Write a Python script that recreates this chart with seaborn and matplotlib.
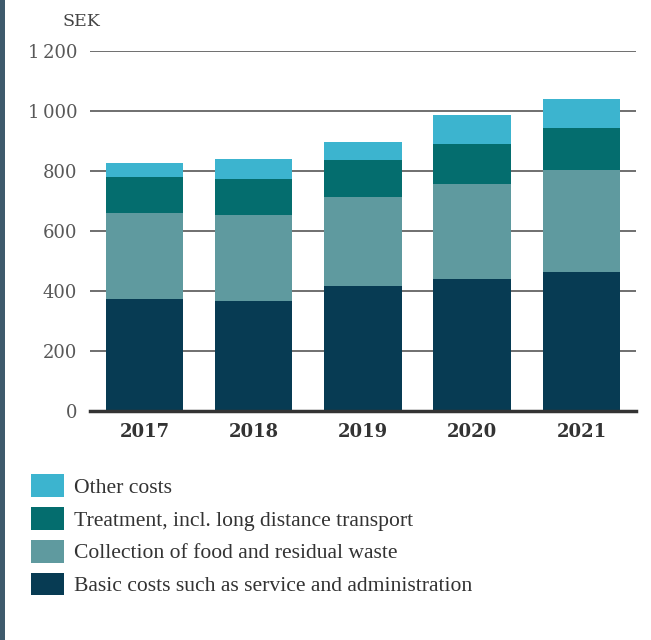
import numpy as np
import pandas as pd
import matplotlib
matplotlib.use("Agg")
import matplotlib.pyplot as plt
from matplotlib.patches import Patch, Rectangle
import seaborn as sns

years = ["2017", "2018", "2019", "2020", "2021"]
basic = [372, 368, 417, 441, 463]
collection = [287, 286, 297, 315, 339]
treatment = [120, 120, 123, 133, 142]
other = [49, 67, 60, 97, 98]

series_names = ["Other costs",
                "Treatment, incl. long distance transport",
                "Collection of food and residual waste",
                "Basic costs such as service and administration"]
colors = ["#3cb4cf", "#046d6e", "#5f9a9f", "#073b53"]
yticks = [0, 200, 400, 600, 800, 1000, 1200]
ytick_labels = ["0", "200", "400", "600", "800", "1\u2009000", "1\u2009200"]

sns.set_theme(style="white")
plt.rcParams['font.family'] = ['DejaVu Serif']

fig = plt.figure(figsize=(6.51, 6.40), dpi=100)
ax = fig.add_axes([0.138, 0.358, 0.839, 0.562])

df = pd.DataFrame({"year": years, "basic": basic, "collection": collection,
                   "treatment": treatment, "other": other})
c1 = df["basic"]
c2 = c1 + df["collection"]
c3 = c2 + df["treatment"]
c4 = c3 + df["other"]
layers = [c4, c3, c2, c1]

for vals, col in zip(layers, colors):
    sns.barplot(x=df["year"], y=vals, color=col, width=0.71, ax=ax,
                saturation=1, edgecolor="none", linewidth=0, zorder=3)

ax.set_ylim(0, 1200)
ax.set_xlim(-0.5, 4.5)
ax.set_yticks(yticks)
ax.set_yticklabels(ytick_labels, family=['DejaVu Serif'], fontsize=13, color="#585858")
ax.set_xticks(range(len(years)))
ax.set_xticklabels(years, fontsize=13, fontweight="bold", color="#333333")
ax.tick_params(axis="y", length=0, pad=9)
ax.tick_params(axis="x", length=0, pad=9)
ax.set_xlabel("")
ax.set_ylabel("")
for y in yticks[1:]:
    ax.axhline(y, color="#6f6f6f", lw=1.4, zorder=1)
for s in ["top", "right", "left"]:
    ax.spines[s].set_visible(False)
ax.spines["bottom"].set_color("#333333")
ax.spines["bottom"].set_linewidth(2.5)
ax.spines["bottom"].set_zorder(4)

fig.text(63 / 651, 1 - 22 / 640, "SEK", fontsize=12.5, color="#444444",
         ha="left", va="center", family=['DejaVu Serif'])

handles = [Patch(facecolor=c, edgecolor="none") for c in colors]
leg = fig.legend(handles, series_names, loc="upper left",
                 bbox_to_anchor=(31 / 651, 1 - 474 / 640),
                 frameon=False, prop={"family": "Liberation Serif", "size": 15.6},
                 handlelength=1.52, handleheight=1.25, handletextpad=0.45,
                 labelspacing=0.42, borderaxespad=0, borderpad=0)
for t in leg.get_texts():
    t.set_color("#333333")

fig.patches.append(Rectangle((0, 0), 5 / 651, 1, transform=fig.transFigure,
                             facecolor="#3e5a6c", edgecolor="none"))

fig.savefig("out.png", dpi=100)
